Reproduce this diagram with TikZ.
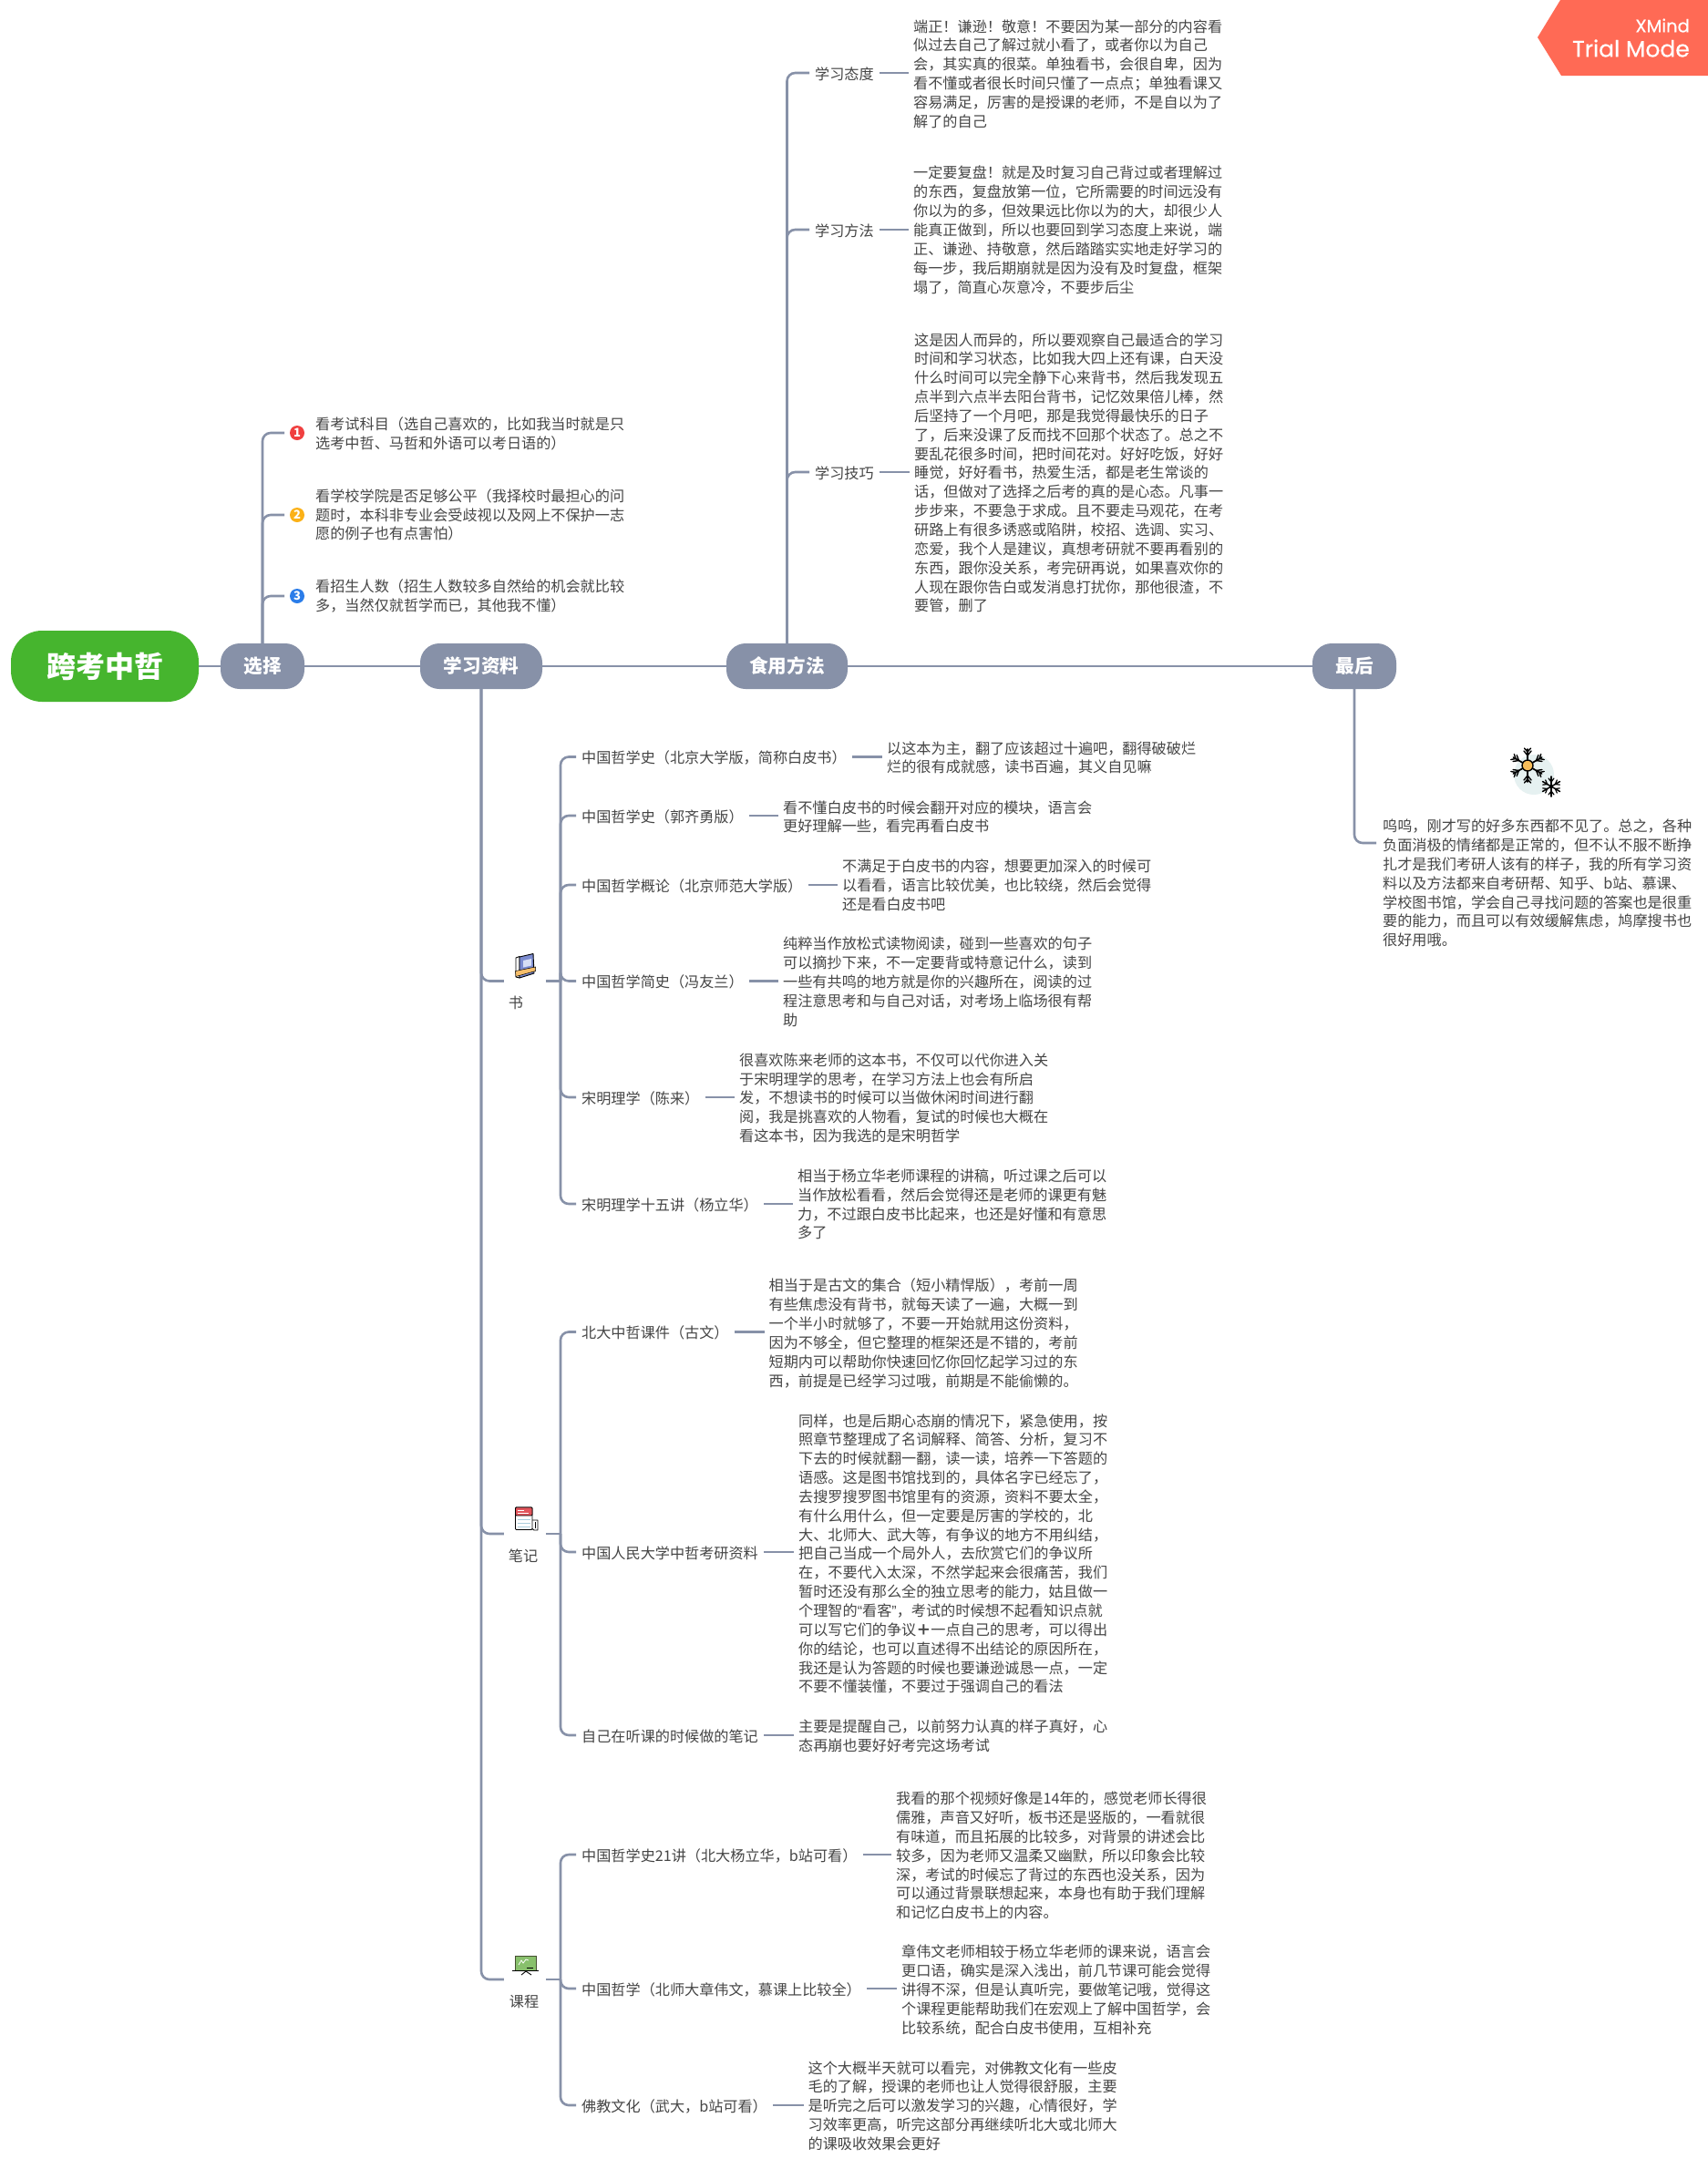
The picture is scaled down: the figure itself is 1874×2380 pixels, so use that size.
\documentclass[tikz,border=0pt]{standalone}
\usepackage{fontspec}
\setmainfont{Noto Sans CJK SC}
\newfontfamily\badgefont[FakeBold=0.5]{Poppins}
\newfontfamily\quotefont{Liberation Sans}
\definecolor{slate}{HTML}{8791A8}
\definecolor{ink}{HTML}{454545}
\definecolor{rootgreen}{HTML}{46B52E}
\definecolor{badge}{HTML}{FF6A55}
\definecolor{dotred}{RGB}{240,64,64}
\definecolor{dotorange}{RGB}{251,177,23}
\definecolor{dotblue}{RGB}{43,125,233}
\definecolor{flakebg}{RGB}{230,241,241}
\definecolor{flakecore}{RGB}{248,190,90}
\definecolor{bookblue}{RGB}{123,139,208}
\definecolor{booklight}{RGB}{214,222,245}
\definecolor{bookband}{RGB}{246,190,106}
\definecolor{notered}{RGB}{226,85,92}
\definecolor{noteline}{RGB}{170,205,220}
\definecolor{lapgreen}{RGB}{136,192,108}
\definecolor{lapframe}{RGB}{70,80,50}
\tikzset{
  conn/.style={draw=slate,line width=2.6pt,rounded corners=9pt},
  rootbox/.style={fill=rootgreen,rounded corners=34pt,minimum width=206pt,minimum height=78pt,inner sep=0pt,text=white,font=\fontsize{32}{36}\selectfont\bfseries},
  mainbox/.style={fill=slate,rounded corners=21pt,minimum height=50pt,inner sep=0pt,text=white,font=\fontsize{20.6}{24}\selectfont\bfseries},
  lab/.style={anchor=west,inner xsep=6pt,inner ysep=0pt,text height=15.5pt,text depth=1.5pt,text=ink,font=\fontsize{16.14}{20.85}\selectfont},
  detail/.style={anchor=west,inner xsep=5pt,inner ysep=0pt,align=left,text=ink,font=\fontsize{16.14}{20.85}\selectfont},
  topiclab/.style={inner sep=0pt,text=ink,font=\fontsize{16.14}{20.85}\selectfont},
  hubbox/.style={minimum width=46pt,minimum height=2pt,inner sep=0pt},
  numdot/.style={circle,minimum size=16pt,inner sep=0pt,outer sep=6pt,text=white,font=\fontsize{13}{14}\selectfont\bfseries},
  iconline/.style={draw=black,line width=0.9pt,line join=round},
  flake/.style={draw=black,line width=1.7pt,line cap=round}
}
\newcommand{\qq}[1]{{\quotefont #1}}
\begin{document}
\begin{tikzpicture}[x=1pt,y=-1pt]
\useasboundingbox (0,0) rectangle (1874,2380);
\fill[white] (0,0) rectangle (1874,2380);

% badge
\fill[badge] (1712,0) -- (1687,41) -- (1713,83) -- (1874,83) -- (1874,0) -- cycle;
\node[anchor=east,inner sep=0pt,text=white,font=\badgefont\fontsize{19.5}{22}\selectfont] (xm) at (1854,28) {XMind};
\node[anchor=east,inner sep=0pt,text=white,font=\badgefont\fontsize{25}{28}\selectfont] (tm) at (1854,53) {Trial Mode};

% main nodes
\node[rootbox] (root) at (115,731) {跨考中哲};
\node[mainbox,minimum width=92pt] (m1) at (288,731) {选择};
\node[mainbox,minimum width=134pt] (m2) at (528,731) {学习资料};
\node[mainbox,minimum width=133pt] (m3) at (863.5,731) {食用方法};
\node[mainbox,minimum width=92pt] (m4) at (1486,731) {最后};
\draw[conn] (root.east) -- (m1.west);
\draw[conn] (m1.east) -- (m2.west);
\draw[conn] (m2.east) -- (m3.west);
\draw[conn] (m3.east) -- (m4.west);

% 选择
\node[numdot,fill=dotred] (n1) at (326,475) {1};
\node[numdot,fill=dotorange] (n2) at (326,565) {2};
\node[numdot,fill=dotblue] (n3) at (326,654) {3};
\draw[conn] (m1.north) |- (n1.west);
\draw[conn] (m1.north) |- (n2.west);
\draw[conn] (m1.north) |- (n3.west);
\node[detail] (c1) at (341,476) {看考试科目（选自己喜欢的，比如我当时就是只\\选考中哲、马哲和外语可以考日语的）};
\node[detail] (c2) at (341,565) {看学校学院是否足够公平（我择校时最担心的问\\题时，本科非专业会受歧视以及网上不保护一志\\愿的例子也有点害怕）};
\node[detail] (c3) at (341,654) {看招生人数（招生人数较多自然给的机会就比较\\多，当然仅就哲学而已，其他我不懂）};

% 食用方法
\node[lab] (u1) at (888,80) {学习态度};
\node[lab] (u2) at (888,252) {学习方法};
\node[lab] (u3) at (888,518) {学习技巧};
\draw[conn] (m3.north) |- (u1.west);
\draw[conn] (m3.north) |- (u2.west);
\draw[conn] (m3.north) |- (u3.west);
\node[detail] (ud1) at (997,81) {端正！谦逊！敬意！不要因为某一部分的内容看\\似过去自己了解过就小看了，或者你以为自己\\会，其实真的很菜。单独看书，会很自卑，因为\\看不懂或者很长时间只懂了一点点；单独看课又\\容易满足，厉害的是授课的老师，不是自以为了\\解了的自己};
\node[detail] (ud2) at (997,252.5) {一定要复盘！就是及时复习自己背过或者理解过\\的东西，复盘放第一位，它所需要的时间远没有\\你以为的多，但效果远比你以为的大，却很少人\\能真正做到，所以也要回到学习态度上来说，端\\正、谦逊、持敬意，然后踏踏实实地走好学习的\\每一步，我后期崩就是因为没有及时复盘，框架\\塌了，简直心灰意冷，不要步后尘};
\node[detail] (ud3) at (998,519) {这是因人而异的，所以要观察自己最适合的学习\\时间和学习状态，比如我大四上还有课，白天没\\什么时间可以完全静下心来背书，然后我发现五\\点半到六点半去阳台背书，记忆效果倍儿棒，然\\后坚持了一个月吧，那是我觉得最快乐的日子\\了，后来没课了反而找不回那个状态了。总之不\\要乱花很多时间，把时间花对。好好吃饭，好好\\睡觉，好好看书，热爱生活，都是老生常谈的\\话，但做对了选择之后考的真的是心态。凡事一\\步步来，不要急于求成。且不要走马观花，在考\\研路上有很多诱惑或陷阱，校招、选调、实习、\\恋爱，我个人是建议，真想考研就不要再看别的\\东西，跟你没关系，考完研再说，如果喜欢你的\\人现在跟你告白或发消息打扰你，那他很渣，不\\要管，删了};
\draw[conn] (u1.east) -- (u1.east -| ud1.west);
\draw[conn] (u2.east) -- (u2.east -| ud2.west);
\draw[conn] (u3.east) -- (u3.east -| ud3.west);

% 最后
\coordinate (lastend) at (1510,925);
\draw[conn] (m4.south) |- (lastend);
\node[detail] (last) at (1512,969) {呜呜，刚才写的好多东西都不见了。总之，各种\\负面消极的情绪都是正常的，但不认不服不断挣\\扎才是我们考研人该有的样子，我的所有学习资\\料以及方法都来自考研帮、知乎、b站、慕课、\\学校图书馆，学会自己寻找问题的答案也是很重\\要的能力，而且可以有效缓解焦虑，鸠摩搜书也\\很好用哦。};
% snowflake icon
\fill[flakebg] (1683,850) circle (22);
\foreach \a in {30,90,150,210,270,330}{
  \begin{scope}[shift={(1676,840)},rotate=\a]
    \draw[flake] (6,0) -- (18,0);
    \draw[flake,line width=1.4pt] (11,0) -- (16,4) (11,0) -- (16,-4) (15,0) -- (19,3.5) (15,0) -- (19,-3.5);
  \end{scope}
  \begin{scope}[shift={(1702,863)},rotate=\a]
    \draw[flake,line width=1.5pt] (0,0) -- (11,0);
    \draw[flake,line width=1.2pt] (5,0) -- (9,3) (5,0) -- (9,-3);
  \end{scope}
}
\fill[flakecore,draw=black,line width=1.4pt] (1676,840) circle (6);

% 学习资料: 书
\node[hubbox] (t1) at (576,1076.5) {};
\coordinate (hub1) at (615,1076.5);
\node[topiclab] (t1l) at (566,1100) {书};
\draw[conn] (m2.south) |- (t1.west);
\draw[conn] (t1.east) -- (hub1);
\filldraw[fill=white,iconline] (566,1051) -- (570,1049.5) -- (570,1073) -- (566,1072) -- cycle;
\filldraw[fill=bookblue,iconline] (570,1050) -- (585,1046.5) -- (586,1068) -- (570,1073) -- cycle;
\fill[booklight] (574,1054) -- (583,1052) -- (583,1059.5) -- (574,1061.5) -- cycle;
\filldraw[fill=bookband,draw=black,line width=0.5pt] (565.5,1065.5) -- (587.5,1061) -- (587.5,1065.5) -- (566,1071.5) -- cycle;

\node[lab] (a1) at (632,830.5) {中国哲学史（北京大学版，简称白皮书）};
\node[lab] (a2) at (632,895) {中国哲学史（郭齐勇版）};
\node[lab] (a3) at (632,971) {中国哲学概论（北京师范大学版）};
\node[lab] (a4) at (632,1076.5) {中国哲学简史（冯友兰）};
\node[lab] (a5) at (632,1204) {宋明理学（陈来）};
\node[lab] (a6) at (632,1321) {宋明理学十五讲（杨立华）};
\foreach \n in {a1,a2,a3,a4,a5,a6}{\draw[conn] (hub1) |- (\n.west);}
\node[detail] (ad1) at (968,831.5) {以这本为主，翻了应该超过十遍吧，翻得破破烂\\烂的很有成就感，读书百遍，其义自见嘛};
\node[detail] (ad2) at (854,896.5) {看不懂白皮书的时候会翻开对应的模块，语言会\\更好理解一些，看完再看白皮书};
\node[detail] (ad3) at (919,971) {不满足于白皮书的内容，想要更加深入的时候可\\以看看，语言比较优美，也比较绕，然后会觉得\\还是看白皮书吧};
\node[detail] (ad4) at (854,1077.5) {纯粹当作放松式读物阅读，碰到一些喜欢的句子\\可以摘抄下来，不一定要背或特意记什么，读到\\一些有共鸣的地方就是你的兴趣所在，阅读的过\\程注意思考和与自己对话，对考场上临场很有帮\\助};
\node[detail] (ad5) at (806,1205) {很喜欢陈来老师的这本书，不仅可以代你进入关\\于宋明理学的思考，在学习方法上也会有所启\\发，不想读书的时候可以当做休闲时间进行翻\\阅，我是挑喜欢的人物看，复试的时候也大概在\\看这本书，因为我选的是宋明哲学};
\node[detail] (ad6) at (870,1321.5) {相当于杨立华老师课程的讲稿，听过课之后可以\\当作放松看看，然后会觉得还是老师的课更有魅\\力，不过跟白皮书比起来，也还是好懂和有意思\\多了};
\draw[conn] (a1.east) -- (a1.east -| ad1.west);
\draw[conn] (a2.east) -- (a2.east -| ad2.west);
\draw[conn] (a3.east) -- (a3.east -| ad3.west);
\draw[conn] (a4.east) -- (a4.east -| ad4.west);
\draw[conn] (a5.east) -- (a5.east -| ad5.west);
\draw[conn] (a6.east) -- (a6.east -| ad6.west);

% 笔记
\node[hubbox] (t2) at (576,1683) {};
\coordinate (hub2) at (615,1683);
\node[topiclab] (t2l) at (574,1707) {笔记};
\draw[conn] (m2.south) |- (t2.west);
\draw[conn] (t2.east) -- (hub2);
\filldraw[fill=white,iconline] (582,1668) -- (590,1668) -- (590,1679) -- (586,1679) -- (582,1676) -- cycle;
\filldraw[fill=white,iconline,rounded corners=1pt] (565.5,1654) rectangle (584,1678.5);
\filldraw[fill=notered,iconline,rounded corners=1pt] (565.5,1654) rectangle (584,1663);
\draw[white,line width=0.9pt] (568,1657) -- (575,1657) (568,1660) -- (580,1660);
\draw[noteline,line width=0.9pt] (568,1667) -- (582,1667) (568,1671) -- (582,1671) (568,1675) -- (582,1675);
\draw[black,line width=0.7pt] (587,1670) -- (587,1677);

\node[lab] (b1) at (632,1461.5) {北大中哲课件（古文）};
\node[lab] (b2) at (632,1703) {中国人民大学中哲考研资料};
\node[lab] (b3) at (632,1904) {自己在听课的时候做的笔记};
\foreach \n in {b1,b2,b3}{\draw[conn] (hub2) |- (\n.west);}
\node[detail] (bd1) at (838.5,1463) {相当于是古文的集合（短小精悍版），考前一周\\有些焦虑没有背书，就每天读了一遍，大概一到\\一个半小时就够了，不要一开始就用这份资料，\\因为不够全，但它整理的框架还是不错的，考前\\短期内可以帮助你快速回忆你回忆起学习过的东\\西，前提是已经学习过哦，前期是不能偷懒的。};
\node[detail] (bd2) at (871,1705) {同样，也是后期心态崩的情况下，紧急使用，按\\照章节整理成了名词解释、简答、分析，复习不\\下去的时候就翻一翻，读一读，培养一下答题的\\语感。这是图书馆找到的，具体名字已经忘了，\\去搜罗搜罗图书馆里有的资源，资料不要太全，\\有什么用什么，但一定要是厉害的学校的，北\\大、北师大、武大等，有争议的地方不用纠结，\\把自己当成一个局外人，去欣赏它们的争议所\\在，不要代入太深，不然学起来会很痛苦，我们\\暂时还没有那么全的独立思考的能力，姑且做一\\个理智的\qq{“}看客\qq{”}，考试的时候想不起看知识点就\\可以写它们的争议{\bfseries ＋}一点自己的思考，可以得出\\你的结论，也可以直述得不出结论的原因所在，\\我还是认为答题的时候也要谦逊诚恳一点，一定\\不要不懂装懂，不要过于强调自己的看法};
\node[detail] (bd3) at (871,1904.5) {主要是提醒自己，以前努力认真的样子真好，心\\态再崩也要好好考完这场考试};
\draw[conn] (b1.east) -- (b1.east -| bd1.west);
\draw[conn] (b2.east) -- (b2.east -| bd2.west);
\draw[conn] (b3.east) -- (b3.east -| bd3.west);

% 课程
\node[hubbox] (t3) at (576,2172) {};
\coordinate (hub3) at (615,2172);
\node[topiclab] (t3l) at (575,2196) {课程};
\draw[conn] (m2.south) |- (t3.west);
\draw[conn] (t3.east) -- (hub3);
\filldraw[fill=lapgreen,draw=lapframe,line width=0.9pt] (565,2146) rectangle (588,2162);
\draw[white,line width=0.8pt] (569,2156) -- (572,2151) -- (574,2154) -- (577,2150) -- (580,2151);
\draw[black,line width=0.8pt] (578,2159.5) -- (585,2159.5);
\draw[black,line width=1.2pt] (562,2162.5) -- (591,2162.5);
\draw[black,line width=0.9pt] (572,2167) -- (577,2163) -- (583,2167);

\node[lab] (e1) at (632,2035) {中国哲学史21讲（北大杨立华，b站可看）};
\node[lab] (e2) at (632,2182) {中国哲学（北师大章伟文，慕课上比较全）};
\node[lab] (e3) at (632,2310) {佛教文化（武大，b站可看）};
\foreach \n in {e1,e2,e3}{\draw[conn] (hub3) |- (\n.west);}
\node[detail] (ed1) at (978,2036) {我看的那个视频好像是14年的，感觉老师长得很\\儒雅，声音又好听，板书还是竖版的，一看就很\\有味道，而且拓展的比较多，对背景的讲述会比\\较多，因为老师又温柔又幽默，所以印象会比较\\深，考试的时候忘了背过的东西也没关系，因为\\可以通过背景联想起来，本身也有助于我们理解\\和记忆白皮书上的内容。};
\node[detail] (ed2) at (984,2183.5) {章伟文老师相较于杨立华老师的课来说，语言会\\更口语，确实是深入浅出，前几节课可能会觉得\\讲得不深，但是认真听完，要做笔记哦，觉得这\\个课程更能帮助我们在宏观上了解中国哲学，会\\比较系统，配合白皮书使用，互相补充};
\node[detail] (ed3) at (881.5,2310.5) {这个大概半天就可以看完，对佛教文化有一些皮\\毛的了解，授课的老师也让人觉得很舒服，主要\\是听完之后可以激发学习的兴趣，心情很好，学\\习效率更高，听完这部分再继续听北大或北师大\\的课吸收效果会更好};
\draw[conn] (e1.east) -- (e1.east -| ed1.west);
\draw[conn] (e2.east) -- (e2.east -| ed2.west);
\draw[conn] (e3.east) -- (e3.east -| ed3.west);
\end{tikzpicture}
\end{document}
